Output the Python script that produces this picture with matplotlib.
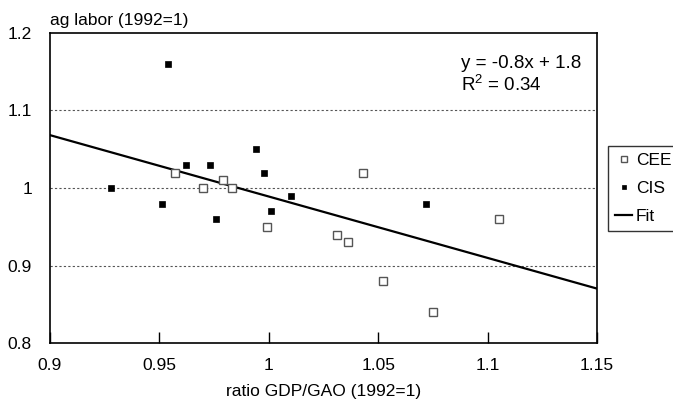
import numpy as np
import matplotlib.pyplot as plt

plt.rcParams['font.family'] = ['Liberation Sans', 'DejaVu Sans']

# ratio GDP/GAO vs agricultural labor, both indexed to 1992
cee_x = [0.957, 0.970, 0.979, 0.983, 0.999, 1.031, 1.036, 1.043, 1.052, 1.075, 1.105]
cee_y = [1.02, 1.00, 1.01, 1.00, 0.95, 0.94, 0.93, 1.02, 0.88, 0.84, 0.96]

cis_x = [0.928, 0.951, 0.954, 0.962, 0.973, 0.976, 0.994, 0.998, 1.001, 1.010, 1.072]
cis_y = [1.00, 0.98, 1.16, 1.03, 1.03, 0.96, 1.05, 1.02, 0.97, 0.99, 0.98]

fit_slope = -0.792
fit_intercept = 1.781
fit_r2 = 0.34

x_ticks = [0.9, 0.95, 1.0, 1.05, 1.1, 1.15]
x_tick_labels = ['0.9', '0.95', '1', '1.05', '1.1', '1.15']
y_ticks = [0.8, 0.9, 1.0, 1.1, 1.2]
y_tick_labels = ['0.8', '0.9', '1', '1.1', '1.2']

fig = plt.figure(figsize=(6.73, 4.04), dpi=100)
ax = fig.add_axes([50 / 673, 1 - 343 / 404, 547 / 673, 310 / 404])

ax.plot(cee_x, cee_y, 's', ms=5.5, mfc='white', mec='#555555', mew=1.0,
        ls='none', label='CEE', zorder=3)
ax.plot(cis_x, cis_y, 's', ms=4.3, mfc='black', mec='black', mew=0.5,
        ls='none', label='CIS', zorder=3)

xs = np.array([0.9, 1.15])
ax.plot(xs, fit_slope * xs + fit_intercept, color='black', lw=1.6,
        label='Fit', zorder=2)

ax.set_xlim(0.9, 1.15)
ax.set_ylim(0.8, 1.2)
ax.set_xticks(x_ticks)
ax.set_xticklabels(x_tick_labels, fontsize=12.5)
ax.set_yticks(y_ticks)
ax.set_yticklabels(y_tick_labels, fontsize=12.5)
ax.tick_params(axis='x', direction='in', length=8, width=1, pad=11)
ax.tick_params(axis='y', length=0, pad=13)

for y in [0.9, 1.0, 1.1]:
    ax.axhline(y, color='#555555', lw=0.8, ls=(0, (2, 2)), zorder=1)

for sp in ax.spines.values():
    sp.set_linewidth(1.2)

ax.set_xlabel('ratio GDP/GAO (1992=1)', fontsize=12.5, labelpad=8)
fig.text(50 / 673, 1 - 20 / 404, 'ag labor (1992=1)', fontsize=12.5,
         ha='left', va='center')

fig.text(461 / 673, 1 - 55 / 404,
         f'y = {fit_slope:.1f}x + {fit_intercept:.1f}\n$\\mathregular{{R^2}}$ = {fit_r2:.2f}',
         ha='left', va='top', fontsize=13.5, linespacing=1.2)

leg = ax.legend(loc='upper left', bbox_to_anchor=(608 / 673, 1 - 146 / 404),
                bbox_transform=fig.transFigure, fontsize=12.5, frameon=True,
                fancybox=False, edgecolor='black', borderaxespad=0,
                handlelength=1.0, handletextpad=0.2, borderpad=0.4,
                labelspacing=0.75, markerscale=0.8)
leg.get_frame().set_linewidth(1.0)

fig.savefig('out.png', dpi=100)
